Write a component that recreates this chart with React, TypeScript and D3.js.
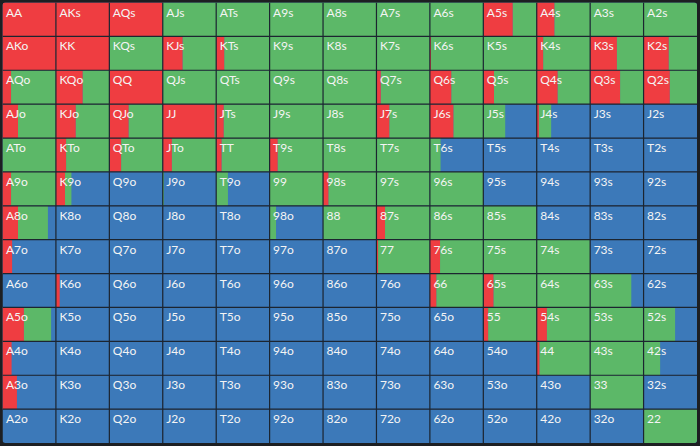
import React from "react";
import * as d3 from "d3";

const ranks = ["A", "K", "Q", "J", "T", "9", "8", "7", "6", "5", "4", "3", "2"];

// fraction of each hand that is raised (red), row by row
const raiseRows: number[][] = [
  [1, 1, 1, 0, 0, 0, 0, 0, 0, 0.55, 0.33, 0, 0],
  [1, 1, 0, 0.37, 0.15, 0, 0, 0, 0.02, 0, 0.12, 0.5, 0.47],
  [0.16, 0.5, 1, 0, 0, 0, 0, 0.08, 0.4, 0.2, 0.39, 0.56, 0.49],
  [0.29, 0.37, 0.36, 0.97, 0.14, 0, 0, 0.24, 0.44, 0, 0.04, 0, 0],
  [0, 0.19, 0.22, 0.17, 0.1, 0.15, 0, 0, 0, 0, 0, 0, 0],
  [0.16, 0.17, 0, 0, 0, 0, 0.1, 0, 0, 0, 0, 0, 0],
  [0.29, 0, 0, 0, 0, 0, 0, 0.16, 0, 0, 0, 0, 0],
  [0.18, 0, 0, 0, 0, 0, 0, 0.03, 0.19, 0, 0, 0, 0],
  [0, 0.07, 0, 0, 0, 0, 0, 0, 0.12, 0.19, 0, 0, 0],
  [0.4, 0, 0, 0, 0, 0, 0, 0, 0, 0.09, 0.19, 0, 0],
  [0.17, 0, 0, 0, 0, 0, 0, 0, 0, 0, 0.05, 0, 0],
  [0.27, 0, 0, 0, 0, 0, 0, 0, 0, 0, 0, 0, 0],
  [0, 0, 0, 0, 0, 0, 0, 0, 0, 0, 0, 0, 0],
];

// fraction of each hand that is called (green), row by row
const callRows: number[][] = [
  [0, 0, 0, 1, 1, 1, 1, 1, 1, 0.45, 0.67, 1, 1],
  [0, 0, 1, 0.63, 0.85, 1, 1, 1, 0.98, 1, 0.88, 0.5, 0.53],
  [0.84, 0.5, 0, 1, 1, 1, 1, 0.92, 0.6, 0.8, 0.61, 0.44, 0.51],
  [0.71, 0.63, 0.64, 0.03, 0.86, 1, 1, 0.76, 0.56, 0.41, 0.23, 0, 0],
  [1, 0.81, 0.78, 0.83, 0.9, 0.85, 1, 1, 0.2, 0, 0, 0, 0],
  [0.84, 0.12, 0, 0.02, 0.22, 1, 0.9, 1, 1, 0, 0, 0, 0],
  [0.56, 0, 0, 0, 0, 0.12, 1, 0.84, 1, 1, 0, 0, 0],
  [0, 0, 0, 0, 0, 0, 0, 0.97, 0.81, 1, 1, 0, 0],
  [0, 0, 0, 0, 0, 0, 0, 0, 0.88, 0.81, 1, 0.77, 0],
  [0.51, 0, 0, 0, 0, 0, 0, 0, 0, 0.91, 0.81, 1, 0.59],
  [0, 0, 0, 0, 0, 0, 0, 0, 0, 0, 0.95, 1, 0.31],
  [0, 0, 0, 0, 0, 0, 0, 0, 0, 0, 0, 1, 0],
  [0, 0, 0, 0, 0, 0, 0, 0, 0, 0, 0, 0, 1],
];

const RED = "#ef3d41";
const GREEN = "#5cb868";
const BLUE = "#3c79b9";
const LINE = "#1c2530";

function label(r: number, c: number) {
  if (r === c) return ranks[r] + ranks[c];
  if (c > r) return ranks[r] + ranks[c] + "s";
  return ranks[c] + ranks[r] + "o";
}

export default function App() {
  const W = 700;
  const H = 446;
  const idx = d3.range(13);
  const x = d3.scaleBand<number>().domain(idx).range([2.5, 697]);
  const y = d3.scaleBand<number>().domain(idx).range([2.5, 443]);
  const bw = x.bandwidth();
  const bh = y.bandwidth();

  const cells: JSX.Element[] = [];
  idx.forEach((r) => {
    idx.forEach((c) => {
      const x0 = x(c)!;
      const y0 = y(r)!;
      const fx = d3.scaleLinear().domain([0, 1]).range([x0, x0 + bw]);
      const rf = raiseRows[r][c];
      const cf = callRows[r][c];
      cells.push(
        <g key={`${r}-${c}`}>
          <rect x={x0} y={y0} width={bw} height={bh} fill={BLUE} />
          {rf + cf > 0 && (
            <rect x={fx(rf)} y={y0} width={fx(rf + cf) - fx(rf)} height={bh} fill={GREEN} />
          )}
          {rf > 0 && <rect x={x0} y={y0} width={fx(rf) - x0} height={bh} fill={RED} />}
          <text
            x={x0 + 3.5}
            y={y0 + 14}
            fill="#f4f4f4"
            fontFamily="Lato, 'Open Sans', sans-serif"
            fontSize={12}
          >
            {label(r, c)}
          </text>
        </g>
      );
    });
  });

  const lines: JSX.Element[] = [];
  d3.range(1, 13).forEach((i) => {
    lines.push(
      <line key={`v${i}`} x1={x(i)!} x2={x(i)!} y1={2.5} y2={443} stroke={LINE} strokeWidth={1.2} />
    );
    lines.push(
      <line key={`h${i}`} x1={2.5} x2={697} y1={y(i)!} y2={y(i)!} stroke={LINE} strokeWidth={1.2} />
    );
  });

  return (
    <div style={{ position: "fixed", left: 0, top: 0 }}>
      <svg width={W} height={H} style={{ display: "block" }}>
        <rect x={0} y={0} width={W} height={H} fill="#1d1f22" />
        <defs>
          <clipPath id="gridclip">
            <rect x={2.5} y={2.5} width={694.5} height={440.5} rx={3} />
          </clipPath>
        </defs>
        <g clipPath="url(#gridclip)">
          {cells}
          {lines}
        </g>
      </svg>
    </div>
  );
}
